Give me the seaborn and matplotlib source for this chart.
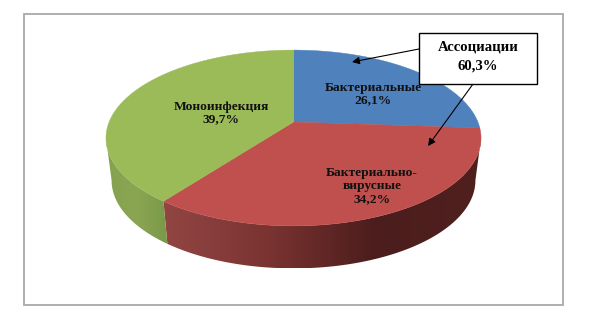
import numpy as np
import seaborn as sns
import matplotlib.pyplot as plt
from matplotlib.patches import Polygon, Rectangle

# Data
categories = ["Бактериальные", "Бактериально-\nвирусные", "Моноинфекция"]
shares = [26.1, 34.2, 39.7]
share_labels = ["26,1%", "34,2%", "39,7%"]
callout_name = "Ассоциации"
callout_share = "60,3%"

# Slice colours
top_colors = ["#4f81bd", "#c0504d", "#9bbb59"]
side_ramps = {
    1: sns.blend_palette(["#924644", "#7a3331", "#4b1d1c", "#4f201e"], 256),
    2: sns.blend_palette(["#86a14f", "#8aa653", "#7a9848"], 256),
}

sns.set_theme(style="white")
plt.rcParams["font.family"] = ["Liberation Serif", "DejaVu Serif"]

# Pie geometry in image pixels, with a tilted perspective
CX, CY = 293.5, 122
SX, SY, P = 184.4, 85, 0.1818
DEPTH = 42.5
SHRINK = 0.97
# Where the rim is widest on the picture: the wall stops there
WALL_START = np.pi - np.arccos(P)
WALL_END = np.pi + np.arccos(P)


def project(theta):
    """Clockwise angle from twelve o'clock to a point on the top face."""
    x = np.sin(theta)
    y = -np.cos(theta)
    d = 1 - P * y
    return CX + SX * x / d, CY + SY * y / d


def slice_angles(values):
    edges = np.cumsum([0] + list(values)) / sum(values) * 2 * np.pi
    return list(zip(edges[:-1], edges[1:]))


fig = plt.figure(figsize=(6.02, 3.16), dpi=100)
ax = fig.add_axes([0, 0, 1, 1])

# Chart frame
ax.add_patch(Rectangle((24, 14), 539, 291, fc="white", ec="#a9a9a9", lw=1.3, zorder=0))

angles = slice_angles(shares)

# Side wall, only the part facing the viewer: a gradient clipped to the wall shape
for i, (start, end) in enumerate(angles):
    if i not in side_ramps:
        continue
    ts = np.linspace(max(start, WALL_START), min(end, WALL_END), 300)
    xs, ys = project(ts)
    bottom_x = CX + (xs - CX) * SHRINK
    bottom_y = ys + DEPTH
    outline = np.c_[np.r_[xs, bottom_x[::-1]], np.r_[ys, bottom_y[::-1]]]
    lo, hi = outline[:, 0].min(), outline[:, 0].max()
    gradient = np.array(side_ramps[i])[np.newaxis, :, :]
    image = ax.imshow(gradient, extent=(lo, hi, outline[:, 1].max(), outline[:, 1].min()),
                      aspect="auto", interpolation="bilinear", zorder=1)
    image.set_clip_path(Polygon(outline, closed=True, transform=ax.transData))

# Top face
for (start, end), color in zip(angles, top_colors):
    ts = np.linspace(start, end, 200)
    xs, ys = project(ts)
    ax.fill(np.r_[CX, xs], np.r_[CY, ys], color=color, lw=0.3, zorder=2)

# Data labels
label_font = dict(fontsize=9.7, fontweight="bold", color="#111111",
                  ha="center", va="center", zorder=6, linespacing=1.1)
ax.text(373, 94, f"{categories[0]}\n{share_labels[0]}", **label_font)
ax.text(372, 186, f"{categories[1]}\n{share_labels[1]}", **label_font)
ax.text(221, 113, f"{categories[2]}\n{share_labels[2]}", **label_font)

# Callout box and its arrows
ax.add_patch(Rectangle((419, 33), 118, 51, fc="white", ec="black", lw=1.0, zorder=5))
ax.text(478, 47, callout_name, fontsize=10.6, fontweight="bold", ha="center", va="center",
        color="black", zorder=6)
ax.text(478, 66, callout_share, fontsize=10.6, fontweight="bold", ha="center", va="center",
        color="black", zorder=6)
arrow = dict(arrowstyle="-|>", color="black", lw=0.8, mutation_scale=11, shrinkA=0, shrinkB=0)
ax.annotate("", xy=(352, 62), xytext=(419, 49), arrowprops=arrow, zorder=4)
ax.annotate("", xy=(428, 146), xytext=(473, 84), arrowprops=arrow, zorder=4)

ax.set_xlim(0, 602)
ax.set_ylim(316, 0)
ax.axis("off")

fig.savefig("out.png", dpi=100)
